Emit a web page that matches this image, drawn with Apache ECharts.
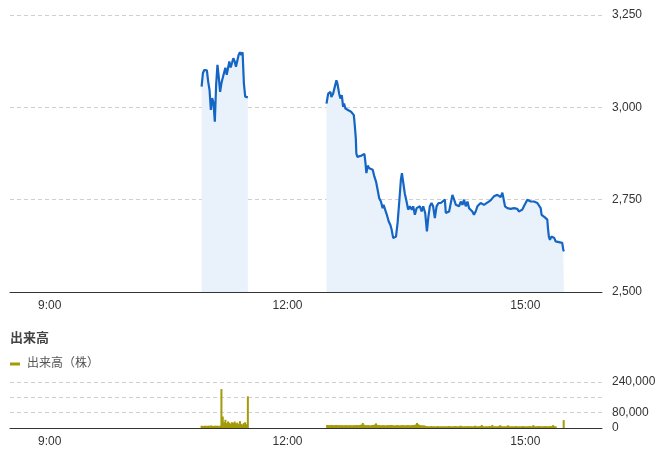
<!DOCTYPE html>
<html>
<head>
<meta charset="utf-8">
<script src="https://cdn.jsdelivr.net/npm/echarts@6/dist/echarts.min.js"></script>
<style>
html,body{margin:0;padding:0;background:#fff;}
#chart{width:666px;height:454px;}
</style>
</head>
<body>
<div id="chart"></div>
<script>
// Time in minutes since midnight
const xTickValues = [540, 720, 900];
const xTickLabels = ['9:00', '12:00', '15:00'];
const priceTicks = [2500, 2750, 3000, 3250];
const volumeTicks = [0, 80000, 240000];

// Morning session prices
const amTimes = [655,656,657,658,659,660,661,662,663,664,665,666,667,668,669,670,671,672,673,674,675,676,677,678,679,680,681,682,683,684,685,686,687,688,689,690];
const amPrices = [3056,3093,3101,3097,3100,3069,3047,2993,3025,3012,2961,3061,3115,3082,3042,3065,3080,3081,3107,3088,3083,3124,3108,3120,3133,3125,3110,3112,3142,3149,3142,3149,3065,3029,3028,3027];

// Afternoon session prices
const pmTimes = [749.5,750.8,751.5,752.5,753.2,754.5,755.8,757.0,757.8,759.1,760.0,761.1,762.1,762.8,763.8,765.1,766.1,767.1,768.1,769.1,770.2,770.9,771.7,772.1,772.9,774.4,775.7,776.9,778.2,778.9,779.7,780.7,781.9,783.2,784.5,785.7,787.0,788.2,789.4,790.7,792.0,792.7,793.7,795.2,796.6,797.8,798.8,800.0,801.3,802.1,803.3,804.5,805.8,806.6,807.6,808.8,810.1,811.3,812.6,814.1,815.1,816.4,817.7,818.9,820.2,821.5,822.7,824.2,825.5,826.5,827.7,829.0,830.2,831.5,832.8,834.3,836.0,837.3,839.1,839.8,841.1,842.3,843.6,844.8,846.1,847.4,848.6,849.8,851.1,852.4,853.6,854.9,856.2,857.4,858.7,859.9,861.1,862.4,863.7,864.9,866.2,867.5,868.7,870.0,871.2,872.5,873.7,875.0,876.2,877.5,878.8,880.0,881.3,882.6,883.4,884.6,886.4,887.6,888.9,890.2,891.4,892.6,893.9,895.1,896.4,897.7,898.9,900.2,901.5,902.7,904.0,905.3,906.5,907.8,909.1,910.3,911.6,912.3,913.3,914.8,915.9,916.6,917.1,917.8,918.6,919.7,920.6,921.9,922.9,924.2,925.4,926.7,927.9,928.7,929.2];
const pmPrices = [3010,3037,3033,3042,3028,3037,3033,3073,3064,3037,3024,3033,3001,3010,2997,3001,2992,2995,2988,2990,2979,2952,2916,2875,2866,2865,2869,2871,2874,2853,2822,2842,2835,2838,2831,2813,2799,2777,2754,2745,2727,2736,2732,2709,2691,2682,2669,2646,2641,2650,2687,2741,2804,2822,2796,2766,2745,2723,2732,2723,2732,2709,2727,2723,2732,2718,2732,2714,2664,2700,2732,2741,2732,2700,2732,2741,2741,2745,2750,2714,2714,2718,2714,2763,2750,2736,2739,2732,2745,2736,2750,2732,2745,2727,2723,2718,2709,2718,2732,2727,2741,2739,2736,2741,2742,2745,2748,2750,2759,2763,2763,2768,2757,2769,2768,2732,2727,2723,2725,2720,2727,2732,2725,2718,2714,2723,2732,2741,2750,2747,2745,2747,2745,2743,2741,2741,2727,2709,2707,2702,2704,2696,2673,2650,2641,2650,2655,2646,2637,2635,2635,2633,2633,2614,2610];

// Volume (shares) per minute
const amVolTimes = amTimes;
const amVolumes = [12000,10000,11000,12000,10000,12000,11000,13000,12000,10000,12000,11000,12000,10000,12000,203000,60000,30000,43000,25000,34000,28000,22000,30000,26000,34000,24000,28000,20000,36000,22000,18000,26000,30000,20000,165000];
const pmVolStart = 750;
const pmVolumes = [
16000,15000,14000,16000,15000,14000,15000,16000,14000,15000,14000,15000,13000,14000,15000,14000,13000,15000,14000,13000,15000,14000,16000,15000,14000,16000,18000,26000,17000,15000,
14000,15000,13000,14000,15000,16000,18000,24000,16000,15000,14000,13000,15000,14000,13000,14000,15000,14000,16000,15000,14000,13000,14000,15000,14000,13000,14000,15000,14000,13000,
14000,15000,14000,13000,15000,14000,16000,18000,26000,20000,15000,14000,13000,14000,12000,10000,9000,8000,9000,10000,8000,9000,8000,9000,10000,8000,9000,8000,9000,8000,
9000,8000,10000,9000,8000,9000,8000,10000,9000,8000,9000,12000,9000,8000,9000,8000,9000,10000,8000,9000,8000,9000,12000,9000,8000,9000,10000,16000,9000,8000,
9000,8000,9000,10000,9000,16000,9000,8000,9000,8000,10000,15000,9000,8000,9000,8000,10000,14000,9000,8000,9000,8000,9000,10000,8000,9000,8000,9000,10000,9000,
8000,9000,8000,10000,9000,8000,15000,9000,8000,9000,10000,9000,8000,9000,8000,10000,9000,8000,9000,10000,9000,15000,9000,8000,0,0,0,0,0,41000];

const FONT = '"Liberation Sans", Arial, "Noto Sans CJK JP", sans-serif';
const LINE_COLOR = '#1565c4';
const AREA_COLOR = '#e9f2fb';
const VOL_COLOR = '#a39a08';

function pairs(xs, ys) { return xs.map((x, i) => [x, ys[i]]); }
function comma(v) { return String(v).replace(/\B(?=(\d{3})+(?!\d))/g, ','); }
function timeLabel(v) {
  const i = xTickValues.indexOf(v);
  return i >= 0 ? xTickLabels[i] : '';
}

const pmVolData = pmVolumes.map((v, i) => [pmVolStart + i, v]);
const volData = pairs(amVolTimes, amVolumes).concat(pmVolData);

const xAxisBase = (gridIndex) => ({
  type: 'value', gridIndex, min: 510, max: 958, interval: 30,
  axisLine: { show: true, lineStyle: { color: '#333', width: 1 } },
  axisTick: { show: false },
  splitLine: { show: false },
  axisLabel: { formatter: timeLabel, color: '#333', fontSize: 12, margin: 8, fontFamily: FONT, showMaxLabel: false }
});

const chart = echarts.init(document.getElementById('chart'), null, { renderer: 'canvas' });
chart.setOption({
  animation: false,
  textStyle: { fontFamily: FONT },
  title: {
    text: '出来高', left: 5, top: 327,
    textStyle: { fontSize: 13, fontWeight: 'bold', color: '#444', fontFamily: FONT }
  },
  legend: {
    data: ['出来高（株）'], left: 5, top: 353,
    icon: 'rect', itemWidth: 10, itemHeight: 3, itemGap: 10,
    textStyle: { color: '#555', fontSize: 12, fontFamily: FONT, padding: [0, 0, 0, 2] }
  },
  grid: [
    { left: 10, right: 64, top: 15, height: 277 },
    { left: 10, right: 64, top: 382, height: 46 }
  ],
  xAxis: [xAxisBase(0), xAxisBase(1)],
  yAxis: [
    {
      type: 'value', gridIndex: 0, position: 'right',
      min: priceTicks[0], max: priceTicks[priceTicks.length - 1], interval: 250,
      axisLine: { show: false }, axisTick: { show: false },
      splitLine: { show: true, lineStyle: { color: '#d0d0d0', type: [4, 3] } },
      axisLabel: { formatter: v => priceTicks.includes(v) ? comma(v) : '', color: '#333', fontSize: 12, margin: 10, fontFamily: FONT }
    },
    {
      type: 'value', gridIndex: 1, position: 'right',
      min: 0, max: 240000, interval: 80000,
      axisLine: { show: false }, axisTick: { show: false },
      splitLine: { show: true, lineStyle: { color: '#d0d0d0', type: [4, 3] } },
      axisLabel: { formatter: v => volumeTicks.includes(v) ? comma(v) : '', color: '#333', fontSize: 12, margin: 10, fontFamily: FONT }
    }
  ],
  series: [
    {
      name: '株価（前場）', type: 'line', xAxisIndex: 0, yAxisIndex: 0,
      data: pairs(amTimes, amPrices), showSymbol: false, symbol: 'none',
      lineStyle: { color: LINE_COLOR, width: 2.2 },
      areaStyle: { color: AREA_COLOR, origin: 'start', opacity: 1 },
      z: 3
    },
    {
      name: '株価（後場）', type: 'line', xAxisIndex: 0, yAxisIndex: 0,
      data: pairs(pmTimes, pmPrices), showSymbol: false, symbol: 'none',
      lineStyle: { color: LINE_COLOR, width: 2.2 },
      areaStyle: { color: AREA_COLOR, origin: 'start', opacity: 1 },
      z: 3
    },
    {
      name: '出来高（株）', type: 'bar', xAxisIndex: 1, yAxisIndex: 1,
      data: volData, barWidth: 2,
      itemStyle: { color: VOL_COLOR },
      large: false
    }
  ]
});
</script>
</body>
</html>
